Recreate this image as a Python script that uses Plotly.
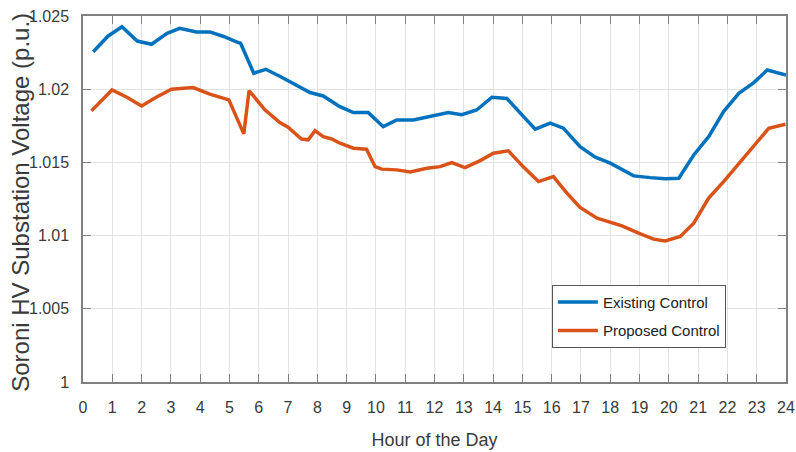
import plotly.graph_objects as go

# Existing Control (blue) - hour, voltage (p.u.)
existing_hour = [0.35, 0.85, 1.33, 1.85, 2.34, 2.87, 3.3, 3.87, 4.33, 4.8, 5.24, 5.38, 5.83, 6.24,
                 6.75, 7.25, 7.75, 8.2, 8.77, 9.23, 9.74, 10.25, 10.71, 11.28, 11.96, 12.47,
                 12.93, 13.44, 13.96, 14.47, 15.04, 15.44, 15.95, 16.4, 16.97, 17.49, 18.0,
                 18.8, 19.37, 19.88, 20.34, 20.85, 21.36, 21.87, 22.39, 22.9, 23.36, 24.0]
existing_v = [1.02256, 1.02362, 1.02427, 1.02329, 1.02307, 1.02382, 1.02416, 1.02391, 1.02391,
              1.02360, 1.02323, 1.02314, 1.02109, 1.02136, 1.02085, 1.02030, 1.01977, 1.01954,
              1.01881, 1.01840, 1.01840, 1.01744, 1.01790, 1.01790, 1.01818, 1.01840, 1.01826,
              1.01858, 1.01945, 1.01937, 1.01813, 1.01727, 1.01768, 1.01734, 1.01608, 1.01536,
              1.01495, 1.01408, 1.01396, 1.01388, 1.01392, 1.01551, 1.01676, 1.01847, 1.01972,
              1.02045, 1.02131, 1.02097]

# Proposed Control (orange) - hour, voltage (p.u.)
proposed_hour = [0.29, 0.99, 1.5, 2.0, 2.5, 3.02, 3.76, 4.33, 4.98, 5.49, 5.67, 6.21, 6.72, 7.0,
                 7.46, 7.69, 7.92, 8.2, 8.49, 8.77, 9.23, 9.68, 9.97, 10.2, 10.71, 11.17, 11.74,
                 12.19, 12.59, 13.04, 13.56, 14.01, 14.52, 15.04, 15.55, 16.06, 16.52, 16.97,
                 17.55, 18.4, 19.03, 19.48, 19.88, 20.39, 20.85, 21.36, 21.87, 22.44, 22.96,
                 23.41, 23.98]
proposed_v = [1.01852, 1.01995, 1.01945, 1.01886, 1.01945, 1.02000, 1.02011, 1.01966, 1.01927,
              1.01695, 1.01990, 1.01859, 1.01772, 1.01740, 1.01660, 1.01654, 1.01717, 1.01676,
              1.01660, 1.01631, 1.01597, 1.01590, 1.01471, 1.01454, 1.01449, 1.01435, 1.01460,
              1.01471, 1.01499, 1.01465, 1.01512, 1.01563, 1.01579, 1.01468, 1.01369, 1.01403,
              1.01290, 1.01192, 1.01119, 1.01067, 1.01012, 1.00976, 1.00964, 1.00994, 1.01085,
              1.01256, 1.01369, 1.01506, 1.01624, 1.01733, 1.01761]

x_ticks = list(range(0, 25))
y_ticks = [1.0, 1.005, 1.01, 1.015, 1.02, 1.025]
y_tick_text = ["1", "1.005", "1.01", "1.015", "1.02", "1.025"]
y_title = "Soroni HV Substation Voltage (p.u.)"

FONT = "Liberation Sans, Arial, sans-serif"
TXT = "#3a3a3a"

fig = go.Figure()
fig.add_trace(go.Scatter(x=existing_hour, y=existing_v, mode="lines", name="Existing Control",
                         legendgroup="a", line=dict(color="#0072BD", width=3.5)))
fig.add_trace(go.Scatter(x=proposed_hour, y=proposed_v, mode="lines", name="Proposed Control",
                         legendgroup="b", line=dict(color="#D95319", width=3.5)))

axis_common = dict(showline=True, linecolor="#808080", linewidth=1.5, mirror="ticks",
                   ticks="inside", ticklen=8, tickcolor="#808080", tickwidth=1.2,
                   showgrid=True, gridcolor="#e3e3e3", gridwidth=1, zeroline=False,
                   automargin=False,
                   tickfont=dict(family=FONT, size=16, color=TXT))

fig.update_xaxes(range=[0, 24], tickvals=x_ticks, ticklabelstandoff=10,
                 title=dict(text="Hour of the Day", font=dict(family=FONT, size=18, color=TXT),
                            standoff=18),
                 **axis_common)
fig.update_yaxes(range=[1.0, 1.025], tickvals=y_ticks, ticktext=y_tick_text, ticklabelstandoff=9,
                 **axis_common)

fig.add_annotation(text=y_title, xref="paper", yref="paper", x=-0.088, y=0.49,
                   xanchor="center", yanchor="middle", textangle=-90, showarrow=False,
                   font=dict(family=FONT, size=24, color=TXT))

fig.update_layout(
    width=796, height=452,
    margin=dict(l=83, r=10, t=16, b=70),
    paper_bgcolor="white", plot_bgcolor="white",
    showlegend=True,
    legend=dict(x=0.667, y=0.266, xanchor="left", yanchor="top",
                bgcolor="white", bordercolor="#555555", borderwidth=1,
                font=dict(family=FONT, size=15, color="#222222"),
                tracegroupgap=6, itemwidth=40),
)

fig.write_html("out.html", config={"displayModeBar": False},
               post_script="document.body.style.margin='0';document.body.style.padding='0';")
